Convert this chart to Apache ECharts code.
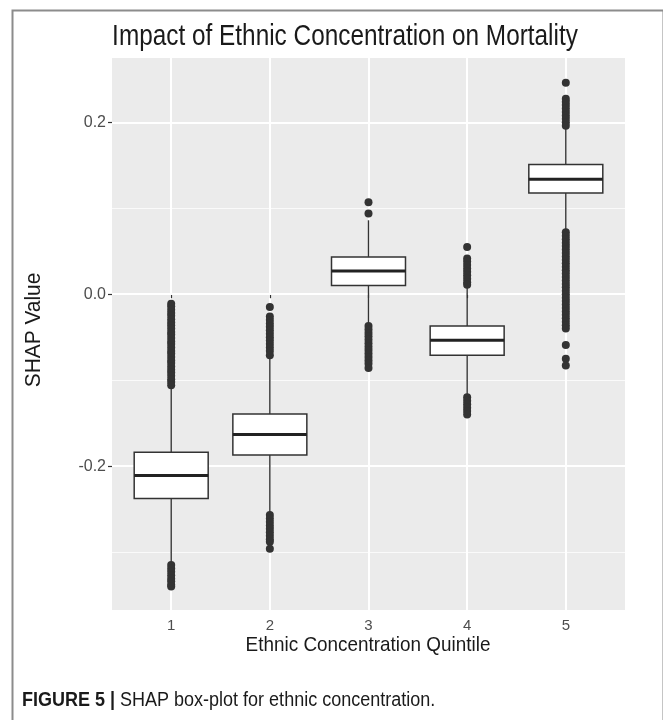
<!doctype html>
<html lang="en">
<head>
  <meta charset="UTF-8">
  <title>SHAP box-plot</title>
  <style>
    html, body { margin: 0; padding: 0; background: #fff; }
  </style>
</head>
<body>
<div id="main" style="width: 663px;height: 720px"></div>
<script src="https://cdn.jsdelivr.net/npm/echarts@6/dist/echarts.min.js"></script>
<script>
    // box stats per quintile
    var quintiles = [1, 2, 3, 4, 5];
    var whiskerLow = [-0.313, -0.255, -0.035, -0.118, 0.074];
    var q1 = [-0.2376, -0.1872, 0.0101, -0.0709, 0.1178];
    var median = [-0.2108, -0.1631, 0.0271, -0.0535, 0.1337];
    var q3 = [-0.1840, -0.1395, 0.0434, -0.0369, 0.1508];
    var whiskerHigh = [-0.108, -0.073, 0.086, 0.009, 0.194];

    // outliers per quintile
    var outliers1 = [-0.011, -0.014, -0.018, -0.022, -0.025, -0.029, -0.033, -0.036, -0.040, -0.044,
        -0.047, -0.051, -0.055, -0.058, -0.062, -0.066, -0.069, -0.073, -0.077, -0.080, -0.084,
        -0.088, -0.091, -0.095, -0.099, -0.102, -0.106,
        -0.315, -0.319, -0.323, -0.327, -0.331, -0.334, -0.338, -0.340];
    var outliers2 = [-0.015, -0.026, -0.030, -0.034, -0.038, -0.042, -0.046, -0.050, -0.054, -0.058,
        -0.062, -0.066, -0.071,
        -0.257, -0.261, -0.265, -0.269, -0.273, -0.277, -0.281, -0.285, -0.288, -0.296];
    var outliers3 = [0.107, 0.094,
        -0.037, -0.041, -0.045, -0.049, -0.053, -0.057, -0.061, -0.065, -0.069, -0.073, -0.077,
        -0.081, -0.086];
    var outliers4 = [0.055, 0.0415, 0.038, 0.034, 0.030, 0.026, 0.022, 0.018, 0.014, 0.011,
        -0.120, -0.124, -0.128, -0.132, -0.136, -0.140];
    var outliers5 = [0.246, 0.2275, 0.224, 0.220, 0.216, 0.212, 0.208, 0.204, 0.200, 0.196,
        0.072, 0.068, 0.064, 0.060, 0.056, 0.052, 0.048, 0.044, 0.040, 0.036, 0.032, 0.028,
        0.024, 0.020, 0.016, 0.012, 0.008, 0.004, 0.000, -0.004, -0.008, -0.012, -0.016, -0.020,
        -0.024, -0.028, -0.032, -0.036, -0.040, -0.059, -0.075, -0.083];

    var majorTicks = [-0.2, 0, 0.2];
    var minorTicks = [-0.3, -0.1, 0.1];

    var sans = "'Liberation Sans', Arial, sans-serif";

    var boxData = quintiles.map(function (q, i) {
        return [q, whiskerLow[i], q1[i], median[i], q3[i], whiskerHigh[i]];
    });
    var pointData = [];
    [outliers1, outliers2, outliers3, outliers4, outliers5].forEach(function (arr, i) {
        arr.forEach(function (v) { pointData.push([quintiles[i], v]); });
    });

    function renderBox(params, api) {
        var x = api.value(0);
        var lo = api.coord([x, api.value(1)]);
        var b1 = api.coord([x, api.value(2)]);
        var md = api.coord([x, api.value(3)]);
        var b3 = api.coord([x, api.value(4)]);
        var hi = api.coord([x, api.value(5)]);
        var half = api.size([0.75, 0])[0] / 2;
        var stroke = {stroke: '#333', lineWidth: 1.4};
        return {
            type: 'group',
            children: [
                {type: 'line', shape: {x1: lo[0], y1: lo[1], x2: b1[0], y2: b1[1]}, style: stroke},
                {type: 'line', shape: {x1: b3[0], y1: b3[1], x2: hi[0], y2: hi[1]}, style: stroke},
                {type: 'rect', shape: {x: b3[0] - half, y: b3[1], width: half * 2, height: b1[1] - b3[1]},
                    style: {fill: '#fff', stroke: '#333', lineWidth: 1.5}},
                {type: 'line', shape: {x1: md[0] - half, y1: md[1], x2: md[0] + half, y2: md[1]},
                    style: {stroke: '#222', lineWidth: 3}}
            ]
        };
    }

    let myCharts = echarts.init(document.querySelector('#main'))
    myCharts.setOption({
        animation: false,
        backgroundColor: '#fff',
        // frame, title, axis titles and caption (condensed look via scaleX)
        graphic: [
            {
                type: 'rect', left: 10, top: 8,
                shape: {width: 651, height: 730},
                style: {fill: 'none', stroke: '#8c8c8c', lineWidth: 2},
                silent: true
            },
            {
                type: 'text', x: 345, y: 37, scaleX: 0.84,
                style: {
                    text: 'Impact of Ethnic Concentration on Mortality',
                    font: '29px ' + sans, fill: '#1a1a1a',
                    textAlign: 'center', textVerticalAlign: 'middle'
                }
            },
            {
                type: 'text', x: 368, y: 645, scaleX: 0.9,
                style: {
                    text: 'Ethnic Concentration Quintile',
                    font: '21px ' + sans, fill: '#1a1a1a',
                    textAlign: 'center', textVerticalAlign: 'middle'
                }
            },
            {
                type: 'text', x: 34, y: 330, rotation: Math.PI / 2, scaleX: 0.95,
                style: {
                    text: 'SHAP Value',
                    font: '22px ' + sans, fill: '#1a1a1a',
                    textAlign: 'center', textVerticalAlign: 'middle'
                }
            },
            {
                type: 'text', x: 22, y: 700, scaleX: 0.9,
                style: {
                    text: '{b|FIGURE 5 |} SHAP box-plot for ethnic concentration.',
                    font: '20px ' + sans, fill: '#1a1a1a',
                    textVerticalAlign: 'middle',
                    rich: {b: {fontWeight: 'bold', fontSize: 20, fontFamily: sans, fill: '#1a1a1a'}}
                }
            }
        ],
        grid: {
            left: 112, top: 58, width: 513, height: 552,
            show: true, backgroundColor: '#EBEBEB', borderWidth: 0
        },
        xAxis: {
            type: 'value', min: 0.4, max: 5.6,
            axisLine: {show: false},
            axisTick: {show: true, length: 4, customValues: quintiles, lineStyle: {color: '#333', width: 1.2}},
            axisLabel: {customValues: quintiles, color: '#4d4d4d', fontSize: 15, margin: 8, fontFamily: sans},
            splitLine: {show: true, lineStyle: {color: '#fff', width: 2}}
        },
        yAxis: [
            {
                type: 'value', min: -0.3674, max: 0.2748,
                axisLine: {show: false},
                axisTick: {show: true, length: 4, customValues: majorTicks, lineStyle: {color: '#333', width: 1.2}},
                axisLabel: {
                    customValues: majorTicks, color: '#4d4d4d', fontSize: 16, margin: 6, fontFamily: sans,
                    formatter: function (v) { return v.toFixed(1); }
                },
                splitLine: {show: true, lineStyle: {color: '#fff', width: 2}},
                z: 1
            },
            {
                type: 'value', min: -0.3674, max: 0.2748,
                axisLine: {show: false},
                axisTick: {show: false, customValues: minorTicks},
                axisLabel: {show: false, customValues: minorTicks},
                splitLine: {show: true, lineStyle: {color: '#fafafa', width: 1}},
                z: 0
            }
        ],
        series: [
            {
                name: 'outliers',
                type: 'scatter',
                data: pointData,
                symbolSize: 8,
                itemStyle: {color: '#333', opacity: 1},
                z: 3
            },
            {
                name: 'boxes',
                type: 'custom',
                renderItem: renderBox,
                encode: {x: 0, y: [1, 2, 3, 4, 5]},
                data: boxData,
                z: 2
            }
        ]
    })
</script>
</body>
</html>
